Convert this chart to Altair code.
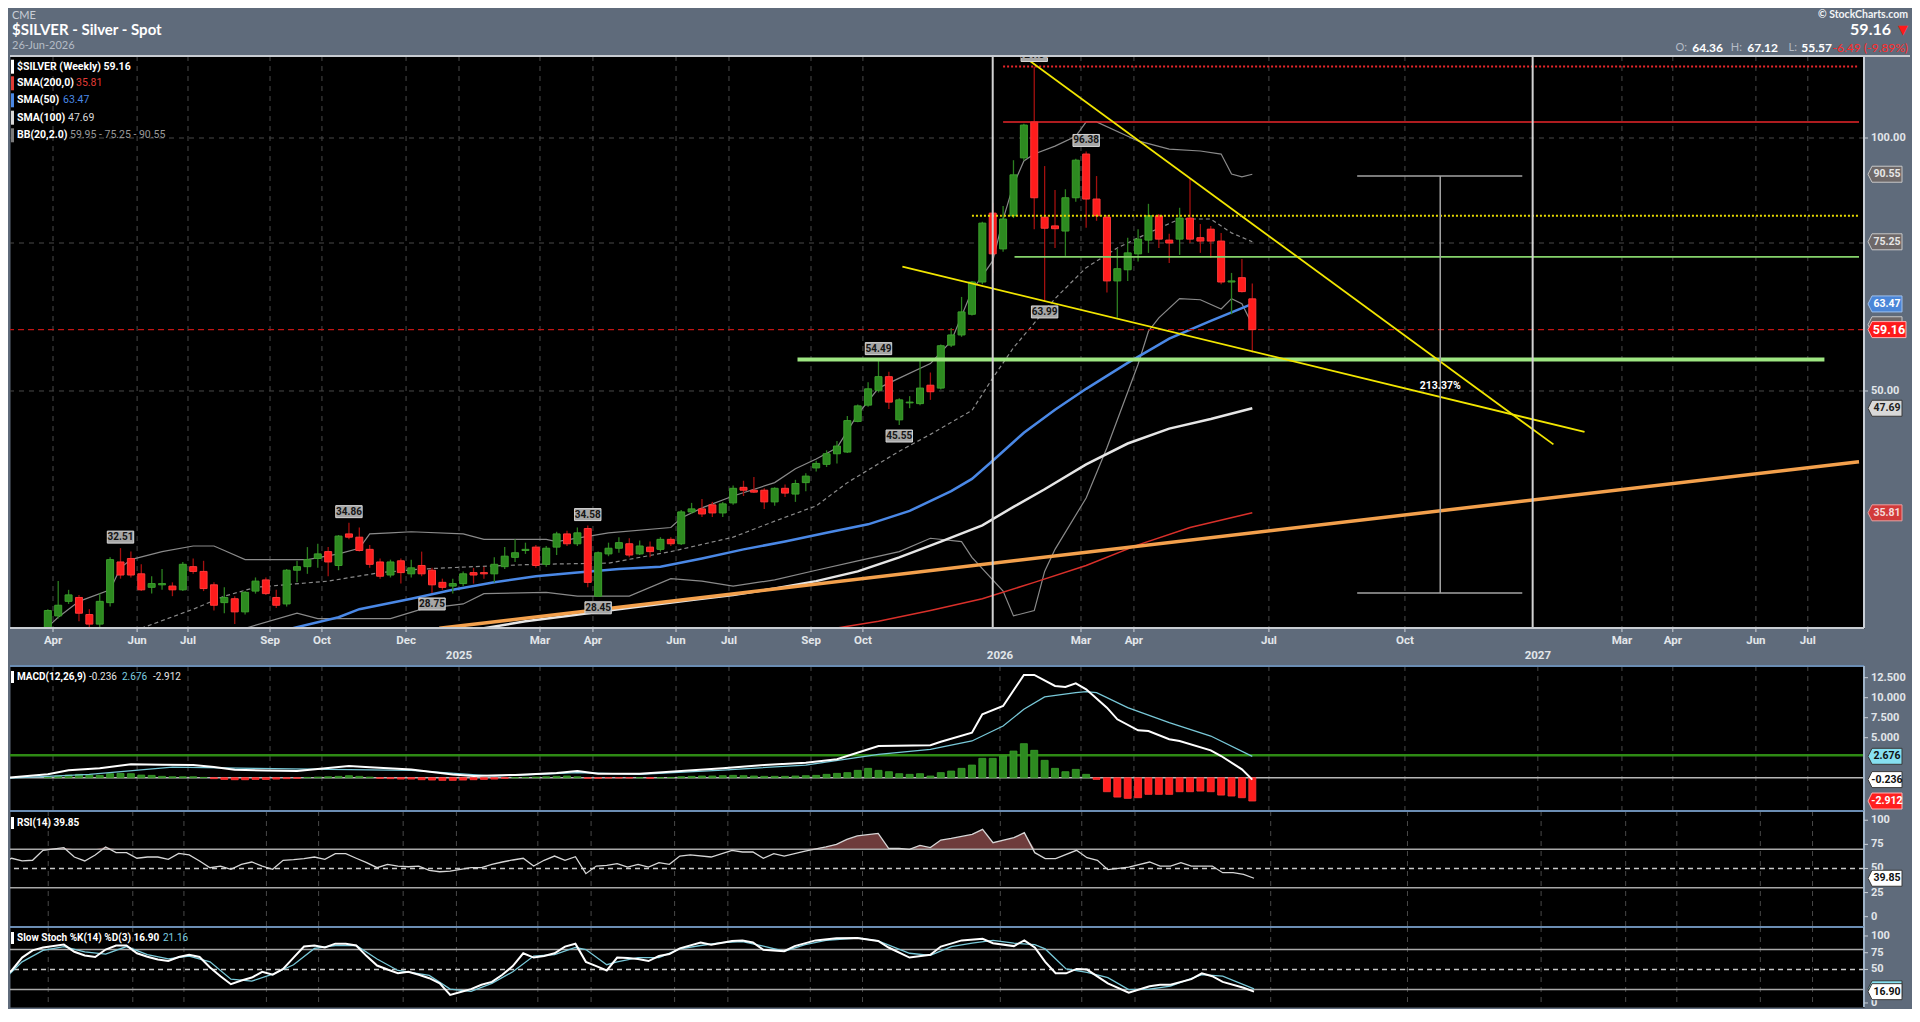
import altair as alt
import pandas as pd

# ---------------- data ----------------
# weekly candles, week 0 = 05-Apr-2024 ... week 116 = 26-Jun-2026
opens = [25.8, 27.0, 28.1, 28.4, 27.1, 26.4, 28.0, 31.3, 31.6, 30.3,
         29.2, 29.4, 29.3, 29.0, 30.9, 30.5, 29.4, 28.0, 28.3, 27.3,
         28.9, 29.8, 28.4, 27.9, 30.6, 30.9, 31.6, 32.2, 31.0, 33.8,
         33.5, 32.4, 31.3, 30.2, 31.4, 30.3, 31.0, 30.6, 29.6, 29.3,
         29.5, 30.4, 30.4, 30.3, 30.9, 31.7, 32.3, 32.6, 31.1, 32.6,
         33.8, 32.9, 34.3, 28.5, 32.0, 32.5, 32.9, 32.0, 32.6, 32.4,
         33.3, 32.9, 35.9, 36.2, 36.6, 35.8, 36.8, 38.4, 38.1, 38.1,
         36.9, 38.3, 37.7, 38.9, 40.5, 40.9, 42.1, 42.3, 46.0, 48.1,
         50.1, 52.0, 46.2, 48.4, 48.3, 50.8, 50.4, 56.7, 58.3, 61.7,
         67.4, 81.4, 73.8, 80.8, 94.7, 104.5, 80.5, 78.6, 77.5, 84.9,
         95.7, 84.6, 80.5, 67.6, 69.7, 72.8, 75.6, 80.8, 75.6, 75.8,
         80.3, 76.1, 77.9, 75.4, 67.4, 68.2, 64.36]
highs = [27.5, 29.7, 29.0, 28.6, 27.5, 28.7, 31.7, 32.51, 32.2, 31.1,
         30.1, 30.7, 29.6, 31.3, 31.6, 31.4, 29.6, 29.2, 28.5, 28.9,
         30.0, 30.0, 29.0, 30.7, 31.4, 32.6, 32.9, 32.6, 33.7, 34.86,
         34.4, 32.8, 31.6, 31.5, 31.6, 31.5, 32.2, 30.8, 29.9, 29.9,
         30.5, 30.8, 30.9, 31.7, 32.6, 33.3, 33.0, 32.8, 32.7, 34.0,
         34.1, 34.4, 34.58, 32.2, 33.0, 33.5, 33.4, 33.2, 33.1, 33.5,
         33.5, 36.1, 36.8, 37.2, 36.9, 36.9, 38.6, 39.1, 39.5, 38.3,
         38.4, 38.7, 39.2, 39.9, 41.3, 42.5, 43.6, 46.7, 48.2, 51.2,
         54.49, 52.7, 49.0, 49.3, 54.3, 52.6, 56.8, 59.4, 64.7, 67.6,
         79.5, 83.7, 83.0, 94.1, 104.0, 121.64, 92.6, 86.7, 86.9, 94.5,
         96.38, 90.1, 81.0, 73.8, 76.1, 77.9, 83.5, 81.2, 76.9, 82.6,
         89.4, 79.0, 78.6, 77.1, 69.1, 71.8, 67.12]
lows = [25.5, 26.8, 27.9, 26.6, 26.1, 26.2, 27.7, 29.9, 30.0, 28.9,
        28.7, 29.0, 28.5, 28.9, 30.3, 28.9, 27.4, 27.2, 26.4, 27.1,
        28.7, 28.6, 27.6, 27.7, 29.6, 30.3, 30.8, 30.1, 30.6, 33.3,
        32.2, 30.8, 29.9, 30.0, 29.5, 30.0, 30.1, 28.75, 29.0, 28.7,
        29.3, 29.5, 29.9, 29.6, 30.7, 31.3, 32.0, 30.8, 30.9, 31.9,
        32.7, 32.7, 29.2, 28.45, 31.8, 32.1, 31.7, 31.9, 31.7, 32.2,
        32.7, 32.8, 35.7, 35.4, 35.4, 35.4, 36.6, 37.5, 37.8, 36.2,
        36.5, 37.4, 36.9, 38.0, 40.1, 40.6, 41.0, 42.2, 45.9, 47.9,
        49.8, 47.6, 45.55, 47.7, 48.1, 48.8, 50.2, 56.4, 58.0, 61.5,
        67.0, 69.1, 73.2, 80.3, 94.0, 77.9, 63.99, 74.0, 72.4, 84.0,
        78.2, 79.7, 65.5, 61.1, 67.6, 71.3, 73.0, 74.0, 71.0, 72.6,
        75.0, 73.0, 72.0, 67.0, 61.7, 65.5, 55.57]
closes = [27.4, 27.8, 28.6, 27.2, 26.4, 28.1, 31.5, 30.2, 30.2, 29.0,
          29.5, 29.5, 29.0, 31.1, 30.5, 29.1, 27.8, 28.4, 27.3, 28.8,
          29.7, 28.7, 27.8, 30.6, 30.9, 31.5, 32.0, 31.3, 33.6, 33.5,
          32.3, 31.1, 30.1, 31.3, 30.4, 30.8, 30.3, 29.4, 29.2, 29.5,
          30.3, 30.2, 30.3, 31.1, 31.8, 32.1, 32.4, 31.0, 32.5, 33.8,
          32.9, 33.9, 29.6, 32.1, 32.5, 33.0, 31.9, 32.7, 32.2, 33.3,
          32.9, 35.9, 36.2, 35.7, 35.8, 36.7, 38.3, 38.1, 37.9, 36.9,
          38.3, 37.8, 38.8, 39.6, 41.0, 42.1, 43.0, 46.1, 48.0, 50.3,
          52.0, 48.5, 48.8, 48.5, 50.4, 49.9, 56.6, 58.3, 62.1, 67.4,
          79.2, 72.8, 80.1, 90.4, 103.6, 84.9, 78.1, 78.0, 84.9, 94.1,
          84.6, 80.8, 67.6, 69.9, 73.0, 75.8, 80.8, 75.8, 75.0, 80.3,
          75.8, 75.4, 75.4, 67.4, 67.6, 65.65, 59.16]

sma50_w = [23, 28, 30, 35, 39, 43, 47, 51, 55, 59, 63, 67, 71, 75, 79, 83, 87, 89, 91, 94, 97, 100, 104, 108, 112, 116]
sma50_v = [26.0, 26.9, 27.5, 28.3, 29.0, 29.6, 30.1, 30.4, 30.7, 30.9, 31.6, 32.4, 33.1, 33.9, 34.7, 36.0, 38.0, 39.3, 41.3, 44.6, 47.5, 50.3, 54.0, 57.7, 60.6, 63.47]
sma100_w = [42, 46, 50, 54, 58, 62, 66, 70, 74, 78, 82, 86, 90, 93, 96, 100, 104, 108, 112, 116]
sma100_v = [26.1, 26.6, 27.0, 27.4, 27.8, 28.2, 28.6, 29.1, 29.7, 30.5, 31.7, 33.1, 34.6, 36.4, 38.2, 40.9, 43.3, 45.1, 46.3, 47.69]
sma200_w = [75, 80, 85, 90, 95, 100, 105, 110, 116]
sma200_v = [26.0, 26.6, 27.4, 28.3, 29.6, 31.0, 32.8, 34.4, 35.81]
bbu_w = [0, 1, 3, 6, 7, 8, 11, 14, 16, 17, 19, 22, 25, 28, 30, 31, 33, 35, 40, 42, 48, 49, 54, 60, 61, 63, 66, 70, 72, 74,
         76, 78, 80, 82, 85, 87, 89, 91, 92, 93, 94, 95, 97, 99, 100, 101, 105, 108, 111, 113, 114, 115, 116]
bbu_v = [26.2, 26.9, 28.1, 29.0, 30.8, 31.5, 32.2, 32.7, 32.7, 32.3, 31.5, 31.5, 31.5, 32.0, 32.5, 33.8, 33.9, 34.0, 33.8, 33.3,
         33.3, 33.1, 33.9, 34.4, 35.3, 36.3, 37.5, 38.9, 40.4, 41.5, 42.8, 46.9, 50.4, 51.8, 53.9, 57.3, 65.8, 71.4, 80.0, 88.0,
         93.9, 95.7, 97.8, 100.5, 104.5, 104.5, 99.2, 97.0, 96.5, 95.7, 90.6, 89.9, 90.55]
bbm_w = [9, 14, 17, 20, 27, 32, 36, 41, 47, 54, 60, 66, 70, 74, 77, 82, 85, 89, 91, 93, 97, 100, 103, 106, 109, 112, 114, 116]
bbm_v = [26.1, 27.5, 28.5, 29.2, 29.7, 30.4, 30.7, 30.9, 31.1, 31.2, 32.2, 33.5, 35.0, 36.5, 38.9, 42.4, 44.4, 47.4, 51.8, 56.3,
         64.4, 70.1, 74.0, 77.1, 80.1, 80.1, 77.1, 75.25]
bbl_w = [19, 24, 26, 33, 36, 40, 42, 48, 51, 56, 60, 63, 66, 70, 74, 78, 82, 85, 88, 89, 92, 93, 95, 96, 97, 100, 102, 105,
         106, 107, 109, 111, 113, 114, 115, 116]
bbl_v = [26.1, 27.2, 26.8, 26.8, 27.5, 27.9, 28.7, 28.8, 28.5, 28.5, 29.9, 29.7, 29.3, 29.8, 30.6, 31.4, 32.2, 33.4, 33.1, 31.7,
         28.9, 27.0, 27.4, 30.5, 32.4, 37.3, 42.8, 53.8, 58.9, 61.1, 64.4, 64.2, 62.6, 64.4, 63.5, 59.95]

macd_w = [-4, 0, 2, 5, 8, 11, 14, 16, 18, 21, 24, 27, 29, 31, 35, 39, 41, 45, 49, 51, 53, 57, 61, 65, 69, 73, 76, 80, 85, 86,
          89, 90, 92, 94, 95, 97, 98, 99, 100, 102, 103, 105, 106, 108, 109, 112, 113, 115, 116]
macd_v = [0.0, 0.42, 0.92, 1.17, 1.67, 1.62, 1.58, 1.33, 1.0, 0.9, 0.85, 1.2, 1.46, 1.3, 1.04, 0.4, 0.21, 0.35, 0.6, 0.83,
          0.5, 0.5, 0.84, 1.17, 1.58, 1.88, 2.30, 3.96, 4.05, 4.5, 5.63, 7.92, 8.96, 12.84, 12.84, 11.46, 11.34, 11.8, 11.05,
          8.75, 7.3, 5.92, 5.84, 4.8, 4.59, 3.42, 2.71, 1.05, -0.236]
sig_w = [-4, 4, 12, 20, 27, 35, 43, 51, 57, 65, 73, 80, 85, 89, 92, 94, 96, 99, 100, 101, 104, 108, 112, 116]
sig_v = [-0.08, 0.42, 1.33, 1.17, 1.04, 0.92, 0.21, 0.63, 0.42, 0.96, 1.58, 2.92, 3.55, 4.59, 6.46, 8.55, 10.09, 10.63,
         10.76, 10.63, 8.75, 6.88, 5.21, 2.676]
hist_v = [0.08, 0.21, 0.33, 0.42, 0.33, 0.29, 0.5, 0.54, 0.5, 0.33,
          0.29, 0.17, 0.12, 0.12, 0.12, 0.04, -0.12, -0.21, -0.25, -0.25,
          -0.21, -0.21, -0.17, -0.12, -0.08, 0.04, 0.08, 0.12, 0.17, 0.25,
          0.17, 0.08, -0.08, -0.12, -0.17, -0.17, -0.25, -0.29, -0.33, -0.33,
          -0.29, -0.25, -0.21, -0.17, -0.08, 0.0, 0.04, 0.08, 0.12, 0.17,
          0.21, 0.12, -0.08, -0.08, -0.04, -0.04, -0.04, 0.0, -0.08, 0.0,
          0.04, 0.12, 0.17, 0.21, 0.21, 0.25, 0.29, 0.25, 0.21, 0.17,
          0.17, 0.17, 0.21, 0.25, 0.29, 0.42, 0.54, 0.63, 0.92, 1.17,
          0.92, 0.75, 0.5, 0.42, 0.5, 0.21, 0.63, 0.83, 1.17, 1.58,
          2.42, 2.42, 2.71, 3.33, 4.25, 3.42, 2.17, 1.17, 0.75, 1.04,
          0.42, -0.21, -1.75, -2.42, -2.58, -2.5, -2.08, -2.08, -2.08, -1.75,
          -1.75, -1.67, -1.75, -2.17, -2.29, -2.5, -2.912]

rsi_w = [-4, -3, -2, -1, 0, 2, 3, 4, 5, 6, 7, 8, 9, 10, 11, 12, 13, 14, 15, 16, 17, 18, 19, 20, 21, 22, 23, 24, 25, 26,
         27, 28, 29, 30, 31, 32, 33, 34, 35, 36, 37, 38, 39, 40, 41, 42, 43, 44, 45, 46, 47, 48, 49, 50, 51, 52, 53, 54, 55, 56,
         57, 58, 59, 60, 61, 62, 64, 66, 67, 68, 69, 70, 71, 73, 75, 76, 77, 78, 80, 81, 82, 83, 84, 85, 86, 87, 89, 90, 91, 93,
         94, 95, 96, 97, 99, 100, 101, 102, 103, 104, 106, 107, 108, 109, 110, 112, 113, 114, 115, 116]
rsi_v = [56.0, 60.6, 57.8, 58.5, 68.8, 71.6, 61.9, 57.8, 64.0, 72.3, 66.4, 66.4, 60.6, 61.9, 61.9, 59.5, 65.7, 64.0, 57.8, 50.8,
         52.5, 49.1, 54.3, 56.7, 52.5, 49.1, 58.5, 59.1, 60.2, 61.9, 59.5, 65.4, 65.4, 60.6, 56.0, 50.8, 54.3, 52.5, 51.8, 52.5,
         48.0, 46.6, 47.3, 49.1, 50.8, 50.8, 54.3, 56.7, 58.8, 60.6, 52.5, 58.5, 62.9, 58.5, 62.2, 44.6, 52.5, 53.3, 55.0, 51.5,
         54.3, 51.5, 56.0, 54.3, 62.9, 64.0, 61.9, 68.8, 67.1, 67.1, 60.6, 65.4, 62.9, 68.1, 72.3, 75.0, 80.2, 83.7, 86.4, 70.9,
         70.9, 69.9, 74.0, 71.6, 79.5, 81.2, 85.3, 90.5, 76.7, 81.9, 87.1, 66.4, 60.2, 60.2, 68.8, 61.2, 58.5, 48.8, 50.2, 51.5,
         56.7, 52.5, 52.5, 56.0, 52.5, 52.5, 45.6, 45.6, 43.9, 39.85]

stk_w = [-4, -3, -2, -1, 0, 2, 3, 4, 5, 6, 7, 8, 9, 10, 11, 12, 13, 14, 15, 16, 17, 18, 19, 20, 21, 22, 23, 24, 25, 26,
         27, 28, 29, 30, 31, 32, 33, 34, 35, 36, 37, 38, 39, 40, 41, 42, 43, 44, 45, 46, 47, 48, 49, 50, 51, 52, 53, 54, 55, 56,
         57, 58, 59, 60, 61, 63, 64, 66, 67, 68, 69, 71, 72, 74, 76, 78, 80, 81, 83, 85, 86, 88, 90, 91, 93, 94, 95, 96, 97, 98,
         99, 100, 102, 104, 106, 107, 108, 110, 111, 112, 113, 115, 116]
stk_v = [35.6, 48.5, 67.8, 78.5, 82.8, 87.1, 76.4, 70.8, 68.6, 79.8, 85.8, 85.8, 74.2, 69.1, 64.8, 62.6, 68.6, 72.1, 68.6, 52.9,
         40.0, 28.0, 33.6, 37.9, 46.5, 42.2, 50.8, 67.8, 84.2, 85.8, 82.8, 88.5, 88.5, 85.8, 70.0, 55.9, 49.9, 44.3, 46.5, 42.2,
         37.0, 29.3, 12.1, 16.4, 20.7, 27.1, 31.4, 42.2, 55.0, 74.2, 67.8, 70.0, 74.2, 84.2, 88.5, 61.4, 55.0, 48.5, 67.8, 67.0,
         65.7, 62.6, 70.0, 73.0, 81.5, 90.2, 87.1, 92.6, 93.4, 90.2, 79.4, 77.2, 84.9, 93.4, 96.5, 97.0, 92.6, 82.8, 67.8, 72.1,
         84.2, 93.4, 95.7, 89.2, 84.9, 93.4, 82.8, 61.4, 44.3, 44.3, 50.8, 49.9, 29.3, 15.5, 25.0, 27.1, 27.1, 35.6, 44.3, 40.0,
         31.4, 22.8, 16.90]
std_w = [-4, -2, 0, 2, 4, 6, 8, 10, 12, 14, 16, 18, 20, 22, 24, 26, 28, 30, 32, 34, 37, 39, 41, 43, 45, 47, 49, 51, 52, 54,
         55, 57, 59, 61, 63, 65, 67, 69, 71, 73, 75, 78, 80, 83, 85, 87, 89, 91, 93, 95, 96, 98, 100, 102, 104, 106, 108, 111, 113, 116]
std_v = [31.4, 61.4, 78.5, 84.2, 76.4, 73.0, 84.2, 72.1, 65.7, 70.0, 61.4, 35.6, 32.6, 42.9, 57.1, 81.5, 85.8, 85.8, 65.7, 48.5,
         41.2, 20.7, 17.2, 29.3, 46.5, 70.0, 72.1, 82.8, 79.8, 57.1, 61.4, 67.8, 67.8, 80.7, 85.8, 90.2, 91.5, 84.9, 77.2, 87.1,
         93.4, 97.0, 92.6, 74.2, 71.2, 84.2, 89.2, 93.4, 89.2, 87.1, 80.7, 50.8, 45.6, 37.9, 19.9, 20.7, 25.0, 42.2, 40.0, 21.16]

# x-axis ticks (week positions) and labels
tick_labels = ["Apr", "Jun", "Jul", "Sep", "Oct", "Dec", "Mar", "Apr", "Jun", "Jul", "Sep", "Oct",
               "Mar", "Apr", "Jul", "Oct", "Mar", "Apr", "Jun", "Jul"]
tick_weeks = [0.5, 8.6, 13.5, 21.4, 26.4, 34.5, 47.4, 52.5, 60.5, 65.6, 73.5, 78.5,
              99.5, 104.6, 117.6, 130.7, 151.6, 156.5, 164.5, 169.5]
year_labels = ["2025", "2026", "2027"]
year_weeks = [39.6, 91.7, 143.5]

# right-hand axis tick values
main_ticks = [50, 100]
macd_ticks = [5, 7.5, 10, 12.5]
rsi_ticks = [0, 25, 50, 75, 100]
sto_ticks = [0, 50, 75, 100]

# annotated price labels on candles
lab_w = [7, 29, 52, 80, 95, 100]
lab_p = [32.51, 34.86, 34.58, 54.49, 121.64, 96.38]
lab_t = ["32.51", "34.86", "34.58", "54.49", "121.64", "96.38"]
lab2_w = [37, 53, 82, 96]
lab2_p = [28.75, 28.45, 45.55, 63.99]
lab2_t = ["28.75", "28.45", "45.55", "63.99"]

# drawn annotations
peak_level = 121.64
red_level = 104.5
yellow_level = 80.8
green_level = 72.2
breakout_level = 54.49
last_close = 59.16
trend1_w, trend1_p = [94, 145], [125.0, 43.2]
trend2_w, trend2_p = [82.3, 148], [70.3, 44.7]
orange_w, orange_p = [37.7, 174.43], [26.1, 41.2]
year_marks = [91, 143]
meas_w, meas_lo, meas_hi = 134.1, 28.75, 90.09
meas_left, meas_right = 126.1, 142.0
meas_text, meas_text_p = "213.37%", 50.7

# ---------------- layout ----------------
W, HM, HMACD, HRSI, HSTO = 1854, 572, 145, 116, 80
FULLW = 1900
BG = "#5f6b7b"
F = "Roboto"
HF = "Lato"
XEND = 174.43

xs = alt.Scale(domain=[-3.161, XEND], nice=False, zero=False)
ys_main = alt.Scale(type="log", domain=[26.12, 125.19], nice=False)
ys_macd = alt.Scale(domain=[-4.16, 13.96], nice=False, zero=False)
ys_rsi = alt.Scale(domain=[-10.7, 109.6], nice=False, zero=False)
ys_sto = alt.Scale(domain=[-6.0, 113.4], nice=False, zero=False)

one = pd.DataFrame({"d": [0]})


def X(field="w"):
    return alt.X(f"{field}:Q", scale=xs, axis=None)


def Y(field, scale):
    return alt.Y(f"{field}:Q", scale=scale, axis=None)


def series(ws, vs, scale, **mk):
    df = pd.DataFrame({"w": ws, "v": vs})
    return alt.Chart(df).mark_line(clip=True, **mk).encode(x=X(), y=Y("v", scale))


def txt(s, x, y, color="#ffffff", size=10, bold=True, align="left", font=F):
    return alt.Chart(one).mark_text(text=s, color=color, fontSize=size, font=font,
                                    fontWeight="bold" if bold else "normal",
                                    align=align, baseline="middle").encode(x=alt.value(x), y=alt.value(y))


def rect(x1, x2, y1, y2, color):
    return alt.Chart(one).mark_rect(color=color).encode(
        x=alt.value(x1), x2=alt.value(x2), y=alt.value(y1), y2=alt.value(y2))


def hrule_px(y, color, width, x1=0, x2=W):
    return alt.Chart(one).mark_rule(color=color, strokeWidth=width).encode(
        x=alt.value(x1), x2=alt.value(x2), y=alt.value(y))


def yaxis(vals, fmt, scale, height, border="#c8ced6"):
    df = pd.DataFrame({"v": vals})
    df["t"] = [format(v, fmt) for v in vals]
    edge = alt.Chart(one).mark_rule(color=border, strokeWidth=2).encode(
        x=alt.value(W), y=alt.value(0), y2=alt.value(height))
    ticks = alt.Chart(df).mark_rule(color="#c8ced6", strokeWidth=1).encode(
        x=alt.value(W), x2=alt.value(W + 4), y=Y("v", scale))
    labs = alt.Chart(df).mark_text(color="#e2e6ea", fontSize=11, fontWeight="bold", font=F, align="left",
                                   baseline="middle").encode(x=alt.value(W + 7), y=Y("v", scale), text="t:N")
    return [edge, ticks, labs]


def level(val, w0, w1, scale, color, width, dash=None):
    df = pd.DataFrame({"v": [val], "w0": [w0], "w1": [w1]})
    mk = dict(color=color, strokeWidth=width, clip=True)
    if dash:
        mk["strokeDash"] = dash
    return alt.Chart(df).mark_rule(**mk).encode(x=X("w0"), x2="w1:Q", y=Y("v", scale))


def vgrid(weeks):
    df = pd.DataFrame({"w": weeks})
    return alt.Chart(df).mark_rule(color="#484848", strokeWidth=1, strokeDash=[5, 5], clip=True).encode(x=X())


ARROW = "M-2.125,0L-1.625,-1H2.125V1H-1.625Z"
ARROW_W = "M-2.375,0L-1.875,-1H2.375V1H-1.875Z"


def rbox(val, label, scale, fill, tcolor, stroke="#c8c8c8", wide=False, tsize=10.5):
    df = pd.DataFrame({"v": [val], "t": [label]})
    cx = W + 23 if wide else W + 21
    shp = alt.Chart(df).mark_point(shape=ARROW_W if wide else ARROW, size=256, filled=True, fill=fill,
                                   stroke=stroke, strokeWidth=1, opacity=1).encode(
        x=alt.value(cx), y=Y("v", scale))
    out = [shp]
    if label:
        out.append(alt.Chart(df).mark_text(color=tcolor, fontSize=tsize, fontWeight="bold", font=F, align="center",
                                           baseline="middle").encode(x=alt.value(cx + 2), y=Y("v", scale), text="t:N"))
    return out


LBOX = "M-2.2,-1H2.2V1H-2.2Z"


def price_labels(ws, ps, ts, yoff):
    df = pd.DataFrame({"w": ws, "p": ps, "t": ts})
    b = alt.Chart(df).mark_point(shape=LBOX, size=144, filled=True, fill="#a6a6a6", stroke="#d6d6d6",
                                 strokeWidth=1, opacity=1, yOffset=yoff, clip=True).encode(x=X(), y=Y("p", ys_main))
    t = alt.Chart(df).mark_text(color="#151515", fontSize=10, fontWeight="bold", font=F, yOffset=yoff,
                                baseline="middle", clip=True).encode(x=X(), y=Y("p", ys_main), text="t:N")
    return [b, t]


# ---------------- main price panel ----------------
cdf = pd.DataFrame({"w": list(range(len(opens))), "open": opens, "high": highs, "low": lows, "close": closes})
cdf["dir"] = ["up" if c >= o else "down" for o, c in zip(opens, closes)]

wicks = alt.Chart(cdf).mark_rule(strokeWidth=1.3, clip=True).encode(
    x=X(), y=Y("low", ys_main), y2="high:Q",
    color=alt.Color("dir:N", scale=alt.Scale(domain=["up", "down"], range=["#2c7f20", "#a3100f"]), legend=None))
bodies = alt.Chart(cdf).mark_bar(size=7, strokeWidth=1, clip=True).encode(
    x=X(), y=Y("open", ys_main), y2="close:Q",
    fill=alt.Fill("dir:N", scale=alt.Scale(domain=["up", "down"], range=["#2d8a20", "#ff1c1c"]), legend=None),
    stroke=alt.Stroke("dir:N", scale=alt.Scale(domain=["up", "down"], range=["#3c9f2d", "#ff3a3a"]), legend=None))

hgrid = alt.Chart(pd.DataFrame({"p": [50, 75, 100]})).mark_rule(
    color="#484848", strokeDash=[5, 5], strokeWidth=1).encode(y=Y("p", ys_main))

tr1 = series(trend1_w, trend1_p, ys_main, color="#f2e600", strokeWidth=1.8)
tr2 = series(trend2_w, trend2_p, ys_main, color="#f2e600", strokeWidth=1.8)
orange = series(orange_w, orange_p, ys_main, color="#f3a04c", strokeWidth=3.5)

ymarks = alt.Chart(pd.DataFrame({"w": year_marks})).mark_rule(color="#d2d2d2", strokeWidth=2, clip=True).encode(x=X())
meas_v = alt.Chart(pd.DataFrame({"w": [meas_w], "lo": [meas_lo], "hi": [meas_hi]})).mark_rule(
    color="#a3a3a3", strokeWidth=1.5).encode(x=X(), y=Y("lo", ys_main), y2="hi:Q")
meas_caps = alt.Chart(pd.DataFrame({"w0": [meas_left, meas_left], "w1": [meas_right, meas_right],
                                    "v": [meas_hi, meas_lo]})).mark_rule(color="#a3a3a3", strokeWidth=1.5).encode(
    x=X("w0"), x2="w1:Q", y=Y("v", ys_main))
meas_t = alt.Chart(pd.DataFrame({"w": [meas_w], "p": [meas_text_p], "t": [meas_text]})).mark_text(
    color="#ffffff", fontSize=10.5, fontWeight="bold", font=F, baseline="middle").encode(
    x=X(), y=Y("p", ys_main), text="t:N")

tdf = pd.DataFrame({"w": tick_weeks, "t": tick_labels})
ydf = pd.DataFrame({"w": year_weeks, "t": year_labels})
mticks = alt.Chart(tdf).mark_rule(color="#d0d4da", strokeWidth=1).encode(
    x=X(), y=alt.value(HM), y2=alt.value(HM + 4))
mlabels = alt.Chart(tdf).mark_text(color="#e2e6ea", fontSize=11.5, fontWeight="bold", font=F, baseline="middle").encode(
    x=X(), y=alt.value(HM + 13), text="t:N")
ylabels = alt.Chart(ydf).mark_text(color="#e2e6ea", fontSize=11.5, fontWeight="bold", font=F, baseline="middle").encode(
    x=X(), y=alt.value(HM + 28), text="t:N")

main_layers = [
    rect(0, FULLW, -47, 0, BG),
    vgrid(tick_weeks + year_weeks[:1]),
    hgrid,
    series(bbu_w, bbu_v, ys_main, color="#8a8a8a", strokeWidth=1.2),
    series(bbl_w, bbl_v, ys_main, color="#8a8a8a", strokeWidth=1.2),
    series(bbm_w, bbm_v, ys_main, color="#8a8a8a", strokeWidth=1.2, strokeDash=[4, 3]),
    series(sma200_w, sma200_v, ys_main, color="#d9302a", strokeWidth=1.5),
    series(sma100_w, sma100_v, ys_main, color="#e6e6e6", strokeWidth=2.5),
    series(sma50_w, sma50_v, ys_main, color="#4a88e6", strokeWidth=2.5),
    alt.Chart(pd.DataFrame({"v": [last_close]})).mark_rule(color="#c01414", strokeWidth=1.2,
                                                            strokeDash=[6, 4]).encode(y=Y("v", ys_main)),
    orange,
    wicks,
    bodies,
    level(peak_level, 92, XEND, ys_main, "#e8262a", 2, [2, 2]),
    level(red_level, 92, XEND, ys_main, "#e8262a", 1.6),
    level(yellow_level, 89, XEND, ys_main, "#e6d800", 2, [2, 2]),
    level(green_level, 93.1, XEND, ys_main, "#86d36b", 1.8),
    level(breakout_level, 72.2, 171.1, ys_main, "#9ee682", 4),
    tr1, tr2,
    ymarks,
    meas_v, meas_caps, meas_t,
]
main_layers += price_labels(lab_w, lab_p, lab_t, -11)
main_layers += price_labels(lab2_w, lab2_p, lab2_t, 11)
main_layers += [
    hrule_px(0, "#c8ccd2", 2, 0, FULLW),
    hrule_px(HM, "#c8ccd2", 2),
    mticks, mlabels, ylabels,
]
main_layers += yaxis(main_ticks, ".2f", ys_main, HM)
# legend (top-left)
legend_y = [10.7, 27.3, 44.3, 61.7, 79.3]
legend_bar = ["#ffffff", "#e23b35", "#4a88e6", "#d8d8d8", "#7a7a7a"]
legend_lab = ["$SILVER (Weekly) 59.16", "SMA(200,0)", "SMA(50)", "SMA(100)", "BB(20,2.0)"]
legend_val = ["", "35.81", "63.47", "47.69", "59.95 - 75.25 - 90.55"]
legend_vcol = ["#ffffff", "#e23b35", "#4a88e6", "#d8d8d8", "#9a9a9a"]
legend_vx = [0, 66, 53, 58, 60]
for yy, bc, lb, vv, vc, vx in zip(legend_y, legend_bar, legend_lab, legend_val, legend_vcol, legend_vx):
    main_layers.append(rect(1, 4, yy - 7, yy + 7, bc))
    main_layers.append(txt(lb, 7, yy, size=10.5))
    if vv:
        main_layers.append(txt(vv, vx, yy, color=vc, size=10.5, bold=False))
# header
main_layers += [
    txt("CME", 2, -40, color="#c9ced6", size=11, bold=False, font=HF),
    txt("$SILVER - Silver - Spot", 2, -26, color="#ffffff", size=15, font=HF),
    txt("26-Jun-2026", 2, -10, color="#b5bcc6", size=11, bold=False, font=HF),
    txt("© StockCharts.com", 1898, -41, color="#f2f4f6", size=10.5, align="right", font=HF),
    txt("▼", 1898, -26, color="#ff1a1a", size=13, align="right", font="DejaVu Sans"),
    txt("59.16", 1881, -26, color="#ffffff", size=16, align="right", font=HF),
    txt("-6.49 (-9.89%)", 1898, -8, color="#ff2a2a", size=12, bold=False, align="right", font=HF),
    txt("55.57", 1822, -8, color="#ffffff", size=12, align="right", font=HF),
    txt("L:", 1787, -8, color="#b5bcc6", size=11, bold=False, align="right", font=HF),
    txt("67.12", 1768, -8, color="#ffffff", size=12, align="right", font=HF),
    txt("H:", 1732, -8, color="#b5bcc6", size=11, bold=False, align="right", font=HF),
    txt("64.36", 1713, -8, color="#ffffff", size=12, align="right", font=HF),
    txt("O:", 1677, -8, color="#b5bcc6", size=11, bold=False, align="right", font=HF),
]
# right-side value boxes
main_layers += rbox(90.55, "90.55", ys_main, "#6e6868", "#e6e6e6")
main_layers += rbox(75.25, "75.25", ys_main, "#6e6868", "#e6e6e6")
main_layers += rbox(63.47, "63.47", ys_main, "#4b86d8", "#ffffff", stroke="#9fc0ec")
main_layers += rbox(59.95, "", ys_main, "#6e6868", "#e6e6e6")
main_layers += rbox(59.16, "59.16", ys_main, "#ff1a1a", "#ffffff", stroke="#ffb0b0", wide=True, tsize=12.5)
main_layers += rbox(47.69, "47.69", ys_main, "#d9d9d9", "#202020", stroke="#3a3a3a")
main_layers += rbox(35.81, "35.81", ys_main, "#d23a3a", "#f4dada", stroke="#e6a0a0")

main = alt.layer(*main_layers).properties(width=W, height=HM)

# ---------------- MACD panel ----------------
hdf = pd.DataFrame({"w": list(range(len(hist_v))), "h": hist_v})
hdf["z"] = 0.0
hdf["sgn"] = ["pos" if h >= 0 else "neg" for h in hist_v]
hist = alt.Chart(hdf).mark_bar(size=7, strokeWidth=0.8, clip=True).encode(
    x=X(), y=Y("h", ys_macd), y2="z:Q",
    fill=alt.Fill("sgn:N", scale=alt.Scale(domain=["pos", "neg"], range=["#0f860f", "#950505"]), legend=None),
    stroke=alt.Stroke("sgn:N", scale=alt.Scale(domain=["pos", "neg"], range=["#22b022", "#e52020"]), legend=None))
macd_layers = [
    vgrid(tick_weeks + year_weeks),
    alt.Chart(pd.DataFrame({"v": [2.8]})).mark_rule(color="#2e8a14", strokeWidth=2.5).encode(y=Y("v", ys_macd)),
    alt.Chart(pd.DataFrame({"v": [0.0]})).mark_rule(color="#b8b8b8", strokeWidth=1.5).encode(y=Y("v", ys_macd)),
    hist,
    series(sig_w, sig_v, ys_macd, color="#78c8d8", strokeWidth=1.3),
    series(macd_w, macd_v, ys_macd, color="#ffffff", strokeWidth=2),
    hrule_px(0, "#6b8db3", 2),
    rect(1, 4, 5, 17, "#ffffff"),
    txt("MACD(12,26,9)", 7, 11),
    txt("-0.236", 79, 11, color="#e6e6e6", bold=False),
    txt("2.676", 112, 11, color="#7fd0e0", bold=False),
    txt("-2.912", 143, 11, color="#e6e6e6", bold=False),
]
macd_layers += yaxis(macd_ticks, ".3f", ys_macd, HMACD, border="#9fb3c8")
macd_layers += rbox(2.676, "2.676", ys_macd, "#86e0f0", "#101010", stroke="#3a3a3a")
macd_layers += rbox(-0.236, "-0.236", ys_macd, "#ffffff", "#101010", stroke="#3a3a3a")
macd_layers += rbox(-2.912, "-2.912", ys_macd, "#ff1f1f", "#ffffff", stroke="#ffb0b0")
macd = alt.layer(*macd_layers).properties(width=W, height=HMACD)

# ---------------- RSI panel ----------------
rdf = pd.DataFrame({"w": rsi_w, "v": rsi_v})
rsi_fill = alt.Chart(rdf).transform_calculate(top="max(datum.v, 70)", base="70").mark_area(
    color="#6e3c3c", opacity=1, clip=True).encode(x=X(), y=Y("top", ys_rsi), y2="base:Q")
rsi_layers = [
    vgrid(tick_weeks + year_weeks),
    rsi_fill,
    alt.Chart(pd.DataFrame({"v": [70, 30]})).mark_rule(color="#a8a8a8", strokeWidth=1.5).encode(y=Y("v", ys_rsi)),
    alt.Chart(pd.DataFrame({"v": [50]})).mark_rule(color="#c8c8c8", strokeWidth=1.5, strokeDash=[5, 4]).encode(
        y=Y("v", ys_rsi)),
    series(rsi_w, rsi_v, ys_rsi, color="#d6d6d6", strokeWidth=1.3),
    hrule_px(0, "#6b8db3", 2),
    rect(1, 4, 6, 18, "#ffffff"),
    txt("RSI(14) 39.85", 7, 12),
]
rsi_layers += yaxis(rsi_ticks, "d", ys_rsi, HRSI, border="#9fb3c8")
rsi_layers += rbox(39.85, "39.85", ys_rsi, "#ffffff", "#101010", stroke="#3a3a3a")
rsi = alt.layer(*rsi_layers).properties(width=W, height=HRSI)

# ---------------- Slow stochastic panel ----------------
sto_layers = [
    vgrid(tick_weeks + year_weeks),
    alt.Chart(pd.DataFrame({"v": [80, 20]})).mark_rule(color="#a8a8a8", strokeWidth=1.5).encode(y=Y("v", ys_sto)),
    alt.Chart(pd.DataFrame({"v": [50]})).mark_rule(color="#c8c8c8", strokeWidth=1.5, strokeDash=[5, 4]).encode(
        y=Y("v", ys_sto)),
    series(std_w, std_v, ys_sto, color="#78c8d8", strokeWidth=1.3),
    series(stk_w, stk_v, ys_sto, color="#ffffff", strokeWidth=2),
    hrule_px(0, "#6b8db3", 2),
    rect(1, 4, 5, 17, "#ffffff"),
    txt("Slow Stoch %K(14) %D(3) 16.90", 7, 11),
    txt("21.16", 153, 11, color="#7fd0e0", bold=False),
]
sto_layers += yaxis(sto_ticks, "d", ys_sto, HSTO, border="#9fb3c8")
sto_layers += rbox(21.16, "", ys_sto, "#86e0f0", "#101010", stroke="#3a3a3a")
sto_layers += rbox(16.90, "16.90", ys_sto, "#ffffff", "#101010", stroke="#3a3a3a")
sto = alt.layer(*sto_layers).properties(width=W, height=HSTO)

lower = alt.vconcat(macd, rsi, sto, spacing=0, bounds="flush")
chart = alt.vconcat(main, lower, spacing=38, bounds="flush").properties(padding=0, background=BG)
chart = chart.configure_view(fill="#000000", stroke="transparent")

chart.save("out.html", embed_options={"renderer": "svg", "actions": False})
